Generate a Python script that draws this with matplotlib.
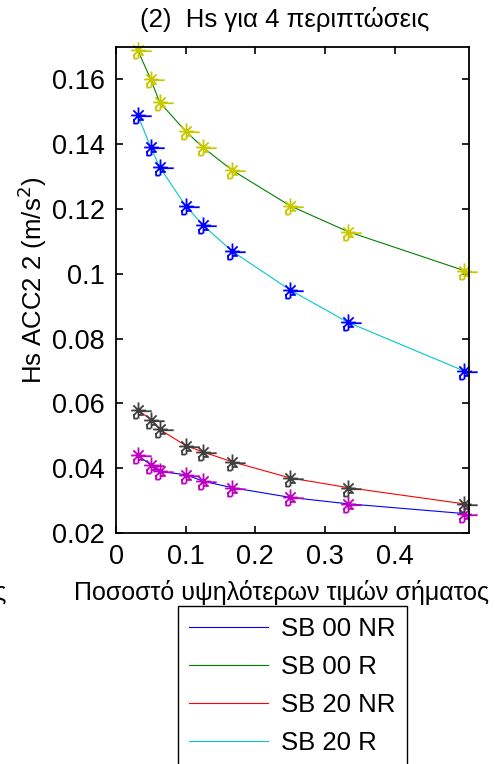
import numpy as np
import matplotlib.pyplot as plt
from matplotlib.path import Path
from matplotlib.ticker import FuncFormatter

plt.rcParams['font.family'] = ['Liberation Sans', 'DejaVu Sans']
plt.rcParams['font.size'] = 18.5

# ratio of highest signal values (x) and Hs for the four cases
ratio = [1/32, 0.05, 1/16, 0.1, 0.125, 1/6, 0.25, 1/3, 0.5]
hs_00_nr = [0.044, 0.041, 0.039, 0.038, 0.036, 0.034, 0.031, 0.029, 0.026]
hs_00_r = [0.169, 0.160, 0.153, 0.144, 0.139, 0.132, 0.121, 0.113, 0.101]
hs_20_nr = [0.058, 0.055, 0.052, 0.047, 0.045, 0.042, 0.037, 0.034, 0.029]
hs_20_r = [0.149, 0.139, 0.133, 0.121, 0.115, 0.107, 0.095, 0.085, 0.070]

labels = ['SB 00 NR', 'SB 00 R', 'SB 20 NR', 'SB 20 R']
line_colors = ['#0000ff', '#008000', '#ff0000', '#00c8c8']
marker_colors = ['#c000c0', '#c8c800', '#404040', '#0000ff']
series = [hs_00_nr, hs_00_r, hs_20_nr, hs_20_r]

xticks = [0, 0.1, 0.2, 0.3, 0.4]
yticks = [0.02, 0.04, 0.06, 0.08, 0.1, 0.12, 0.14, 0.16]

# asterisk with the little dash / bracket bits seen in the original
M, L = Path.MOVETO, Path.LINETO
verts = [(-1, 0), (1, 0), (0, -1.1), (0, 1.1), (-.7, -.7), (.7, .7), (-.7, .7), (.7, -.7),
         (0.4, -0.1), (1.8, -0.1),
         (-0.6, -0.5), (-0.6, -1.1), (-0.1, -1.1),
         (0.0, -0.6), (0.5, -0.6)]
codes = [M, L, M, L, M, L, M, L, M, L, M, L, L, M, L]
star_mark = Path(verts, codes)

fig = plt.figure(figsize=(4.95, 7.64), dpi=100)
ax = fig.add_axes([116/495, 1-533/764, 353/495, 486/764])

handles = []
for y, lc, mc, lab in zip(series, line_colors, marker_colors, labels):
    h, = ax.plot(ratio, y, color=lc, lw=0.8, label=lab)
    ax.plot(ratio, y, ls='none', marker=star_mark, ms=19, mew=1.3,
            mec=mc, mfc='none', clip_on=False)
    handles.append(h)

ax.set_xlim(0, 0.507)
ax.set_ylim(0.02, 0.17)
ax.set_xticks(xticks)
ax.set_yticks(yticks)
fmt = FuncFormatter(lambda v, p: '%g' % v)
ax.xaxis.set_major_formatter(fmt)
ax.yaxis.set_major_formatter(fmt)
ax.tick_params(direction='in', top=True, right=True, length=5, width=1.2, pad=8,
               labelsize=19.5)
for s in ax.spines.values():
    s.set_linewidth(1.3)

ax.set_xlabel('Ποσοστό υψηλότερων τιμών σήματος', fontsize=18)
ax.xaxis.label.set_va('top')
ax.xaxis.set_label_coords(0.47, -0.097)
ax.set_ylabel('Hs ACC2 2 (m/s$^2$)')
ax.yaxis.label.set_va('center')
ax.yaxis.set_label_coords(-0.238, 0.52)
ax.text(0.479, 1.041, '(2)  Hs για 4 περιπτώσεις', transform=ax.transAxes,
        ha='center', va='baseline')

# clipped piece of the neighbouring subplot's label
fig.text(0.0, 1-593/764, 'ς', ha='center', va='center')

leg = ax.legend(handles=handles, loc='upper left',
                bbox_to_anchor=(178/495, 1-606/764), bbox_transform=fig.transFigure,
                borderaxespad=0, borderpad=0.42, handlelength=3.1,
                handletextpad=0.5, labelspacing=0.55, fancybox=False,
                edgecolor='black', framealpha=1)
leg.get_frame().set_linewidth(1.0)

fig.savefig('out.png', dpi=100)
